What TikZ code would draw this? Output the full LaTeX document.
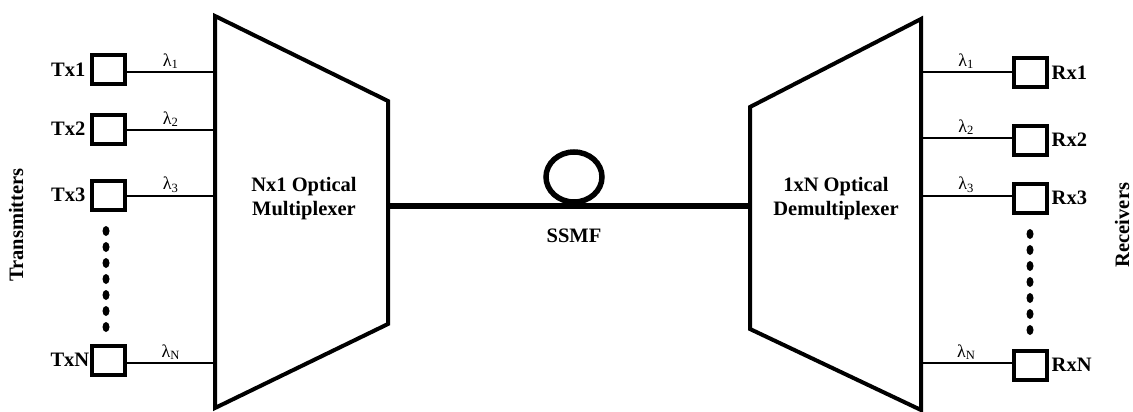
\documentclass[tikz,border=0pt]{standalone}
\usepackage{fontspec}
\setmainfont{Liberation Serif}
\usetikzlibrary{shapes.geometric}
\begin{document}
\begin{tikzpicture}[x=1pt,y=-1pt,
  box/.style={draw,line width=4pt,minimum width=33pt,minimum height=29pt,inner sep=0pt},
  lbl/.style={font=\fontsize{20.5}{24}\selectfont\bfseries,inner sep=1pt},
  lam/.style={font=\fontsize{18}{18}\selectfont,inner sep=1pt,above=1pt},
  wire/.style={line width=2.7pt},
  dev/.style={line width=4pt,line join=miter},
  dotm/.style={fill=black,ellipse,minimum width=7pt,minimum height=10pt,inner sep=0pt}]
\useasboundingbox (0,0) rectangle (1133,412);
% multiplexer
\coordinate (m1) at (215,16); \coordinate (m2) at (388,101);
\coordinate (m3) at (388,324); \coordinate (m4) at (215,408);
\draw[dev] (m1) -- (m2) -- (m3) -- (m4) -- cycle;
% demultiplexer
\coordinate (d1) at (750,107); \coordinate (d2) at (921,19);
\coordinate (d3) at (921,410); \coordinate (d4) at (750,329);
\draw[dev] (d1) -- (d2) -- (d3) -- (d4) -- cycle;
\node[lbl,align=center] (mtext) at (304,199) {Nx1 Optical\\Multiplexer};
\node[lbl,align=center] (dtext) at (836,199) {1xN Optical\\Demultiplexer};
% fibre
\coordinate (fa) at (388,206); \coordinate (fb) at (750,206);
\draw[line width=6pt] (fa) -- (fb);
\draw[line width=5.5pt] (574,177) ellipse (28pt and 25pt);
\node[lbl] (ssmf) at (574,236) {SSMF};
% transmitters
\node[box] (tx1) at (108,70) {};
\node[box] (tx2) at (108,129) {};
\node[box] (tx3) at (108,195) {};
\node[box] (txn) at (108,360) {};
\coordinate (l1) at (215,72); \coordinate (l2) at (215,130);
\coordinate (l3) at (215,196); \coordinate (ln) at (215,363);
\draw[wire] (l1 -| tx1.east) -- node[lam] {λ\textsubscript{1}} (l1);
\draw[wire] (l2 -| tx2.east) -- node[lam] {λ\textsubscript{2}} (l2);
\draw[wire] (l3 -| tx3.east) -- node[lam] {λ\textsubscript{3}} (l3);
\draw[wire] (ln -| txn.east) -- node[lam] {λ\textsubscript{N}} (ln);
\node[lbl,anchor=east] (tx1l) at ([xshift=-3pt]tx1.west) {Tx1};
\node[lbl,anchor=east] (tx2l) at ([xshift=-3pt]tx2.west) {Tx2};
\node[lbl,anchor=east] (tx3l) at ([xshift=-3pt]tx3.west) {Tx3};
\node[lbl,anchor=east] (txnl) at ([xshift=1pt]txn.west) {TxN};
\foreach \i in {0,...,6} \node[dotm] (td\i) at (106,231+16*\i) {};
% receivers
\node[box] (rx1) at (1030,73) {};
\node[box] (rx2) at (1030,140) {};
\node[box] (rx3) at (1030,198) {};
\node[box] (rxn) at (1030,365) {};
\coordinate (r1) at (921,72); \coordinate (r2) at (921,138);
\coordinate (r3) at (921,196); \coordinate (rn) at (921,363);
\draw[wire] (r1) -- node[lam] {λ\textsubscript{1}} (r1 -| rx1.west);
\draw[wire] (r2) -- node[lam] {λ\textsubscript{2}} (r2 -| rx2.west);
\draw[wire] (r3) -- node[lam] {λ\textsubscript{3}} (r3 -| rx3.west);
\draw[wire] (rn) -- node[lam] {λ\textsubscript{N}} (rn -| rxn.west);
\node[lbl,anchor=west] (rx1l) at ([xshift=2pt]rx1.east) {Rx1};
\node[lbl,anchor=west] (rx2l) at ([xshift=2pt]rx2.east) {Rx2};
\node[lbl,anchor=west] (rx3l) at ([xshift=2pt]rx3.east) {Rx3};
\node[lbl,anchor=west] (rxnl) at ([xshift=2pt]rxn.east) {RxN};
\foreach \i in {0,...,6} \node[dotm] (rd\i) at (1030,234+16*\i) {};
% side labels
\node[lbl,rotate=90] (trans) at (16,225) {Transmitters};
\node[lbl,rotate=90] (recv) at (1122,225) {Receivers};
\end{tikzpicture}
\end{document}
